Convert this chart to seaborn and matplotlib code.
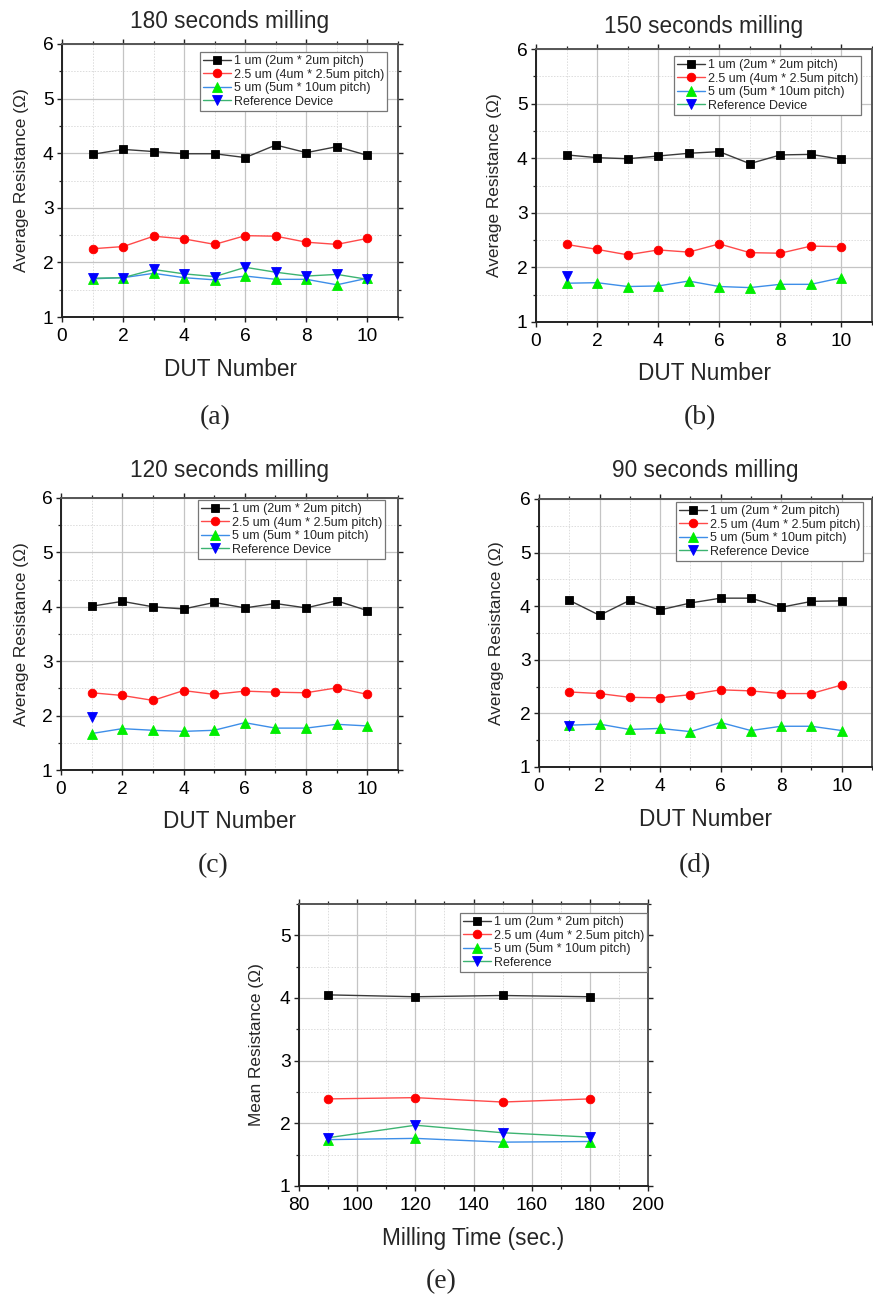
import numpy as np
import pandas as pd
import matplotlib
matplotlib.use("Agg")
import matplotlib.pyplot as plt
import seaborn as sns
from matplotlib.ticker import MultipleLocator

sns.set_style("ticks")
plt.rcParams["font.family"] = ["Liberation Sans", "DejaVu Sans"]

# ---- data -------------------------------------------------------------
dut = [1, 2, 3, 4, 5, 6, 7, 8, 9, 10]

a_1um = [3.98, 4.07, 4.03, 3.99, 3.99, 3.92, 4.15, 4.01, 4.12, 3.96]
a_25um = [2.25, 2.29, 2.48, 2.43, 2.33, 2.49, 2.48, 2.37, 2.33, 2.44]
a_5um = [1.70, 1.72, 1.80, 1.72, 1.68, 1.75, 1.69, 1.69, 1.59, 1.71]
a_ref = [1.71, 1.72, 1.87, 1.79, 1.74, 1.91, 1.82, 1.75, 1.78, 1.69]

b_1um = [4.06, 4.01, 3.99, 4.04, 4.09, 4.12, 3.90, 4.06, 4.07, 3.98]
b_25um = [2.42, 2.33, 2.23, 2.32, 2.28, 2.43, 2.27, 2.26, 2.39, 2.38]
b_5um = [1.71, 1.72, 1.65, 1.66, 1.75, 1.65, 1.63, 1.69, 1.69, 1.81]
b_ref = [1.84]

c_1um = [4.01, 4.10, 4.00, 3.96, 4.08, 3.98, 4.06, 3.98, 4.11, 3.93]
c_25um = [2.42, 2.37, 2.28, 2.46, 2.39, 2.45, 2.43, 2.42, 2.51, 2.39]
c_5um = [1.67, 1.76, 1.73, 1.71, 1.73, 1.87, 1.77, 1.77, 1.84, 1.81]
c_ref = [1.97]

d_1um = [4.11, 3.83, 4.11, 3.93, 4.06, 4.15, 4.15, 3.98, 4.09, 4.10]
d_25um = [2.40, 2.37, 2.30, 2.29, 2.35, 2.44, 2.42, 2.37, 2.37, 2.53]
d_5um = [1.78, 1.80, 1.70, 1.72, 1.66, 1.83, 1.68, 1.76, 1.76, 1.68]
d_ref = [1.76]

milling_time = [90, 120, 150, 180]
e_1um = [4.05, 4.02, 4.04, 4.02]
e_25um = [2.39, 2.41, 2.34, 2.39]
e_5um = [1.74, 1.76, 1.70, 1.71]
e_ref = [1.77, 1.97, 1.85, 1.78]

series_labels = ["1 um (2um * 2um pitch)", "2.5 um (4um * 2.5um pitch)",
                 "5 um (5um * 10um pitch)", "Reference Device"]
titles = ["180 seconds milling", "150 seconds milling",
          "120 seconds milling", "90 seconds milling"]

# line colour, marker colour, marker shape, marker size
styles = [
    ("#3a3a3a", "#000000", "s", 5.6),
    ("#ff4a4a", "#ff0000", "o", 6.2),
    ("#3d8ee8", "#00ee00", "^", 6.6),
    ("#3cb371", "#0000ff", "v", 6.6),
]

W, H = 873, 1301
fig = plt.figure(figsize=(W / 100, H / 100), dpi=100)


def make_axes(left, right, top, bottom):
    return fig.add_axes([left / W, 1 - bottom / H, (right - left) / W, (bottom - top) / H])


def style_axes(ax, xmaj, xmin, ymaj, ymin):
    ax.xaxis.set_major_locator(MultipleLocator(xmaj))
    ax.xaxis.set_minor_locator(MultipleLocator(xmin))
    ax.yaxis.set_major_locator(MultipleLocator(ymaj))
    ax.yaxis.set_minor_locator(MultipleLocator(ymin))
    ax.set_axisbelow(True)
    ax.grid(True, which="major", color="#c4c4c4", lw=0.9, ls="-")
    ax.grid(True, which="minor", color="#dcdcdc", lw=0.7, ls=(0, (1.5, 1.5)))
    ax.tick_params(which="both", direction="out", top=True, right=True,
                   colors="#222222", labelcolor="black")
    ax.tick_params(which="major", length=3.6, width=1.0, labelsize=13.8, pad=2.5)
    ax.tick_params(axis="x", which="major", pad=4.5)
    ax.tick_params(which="minor", length=2.2, width=0.9)
    for side in ["left", "bottom"]:
        ax.spines[side].set_color("#222222")
        ax.spines[side].set_linewidth(1.4)
    for side in ["top", "right"]:
        ax.spines[side].set_color("#555555")
        ax.spines[side].set_linewidth(1.4)
    ax.set_xlabel("")
    ax.set_ylabel("")


def draw_series(ax, xs_list, ys_list, labels):
    for (lc, mc, mk, ms), xs, ys, lab in zip(styles, xs_list, ys_list, labels):
        df = pd.DataFrame({"x": xs, "y": ys})
        sns.lineplot(data=df, x="x", y="y", ax=ax, color=lc, lw=1.0,
                     marker=mk, markersize=ms, markerfacecolor=mc,
                     markeredgecolor=mc, markeredgewidth=0.6,
                     label=lab, errorbar=None, legend=False)


def add_legend(ax, x0, y0, fontsize=9.0):
    handles, labels = ax.get_legend_handles_labels()
    leg = ax.legend(handles, labels, loc="upper left",
                    bbox_to_anchor=(x0 / W, 1 - y0 / H),
                    bbox_transform=fig.transFigure, fontsize=fontsize,
                    frameon=True, fancybox=False, framealpha=1,
                    edgecolor="#777777", borderpad=0.25, labelspacing=0.12,
                    handlelength=2.2, handletextpad=0.25, borderaxespad=0)
    leg.get_frame().set_linewidth(0.9)


# ---- panels (a)-(d): resistance per DUT --------------------------------
panels = [
    # box (left, right, top, bottom), data, reference x, legend origin,
    # title baseline, x-label baseline, panel tag position, y-label x, tag, title
    ((62, 398, 44, 317), (a_1um, a_25um, a_5um, a_ref), dut,
     (200, 52), 28, 376, (215, 418), 22, "(a)", titles[0]),
    ((536, 872, 49, 322), (b_1um, b_25um, b_5um, b_ref), dut[:1],
     (674, 56), 33, 380, (700, 418), 494, "(b)", titles[1]),
    ((61, 398, 498, 770), (c_1um, c_25um, c_5um, c_ref), dut[:1],
     (198, 500), 477, 828, (213, 866), 22, "(c)", titles[2]),
    ((539, 872, 499, 767), (d_1um, d_25um, d_5um, d_ref), dut[:1],
     (676, 502), 477, 826, (695, 866), 497, "(d)", titles[3]),
]

for box, ys, ref_x, leg_xy, t_y, xl_y, tag_xy, yl_x, tag, title in panels:
    left, right, top, bottom = box
    ax = make_axes(left, right, top, bottom)
    draw_series(ax, [dut, dut, dut, ref_x], list(ys), series_labels)
    ax.set_xlim(0, 11)
    ax.set_ylim(1, 6)
    style_axes(ax, 2, 1, 1, 0.5)
    add_legend(ax, *leg_xy)
    cx = (left + right) / 2
    fig.text(cx / W, 1 - t_y / H, title, ha="center", va="baseline", fontsize=16.3)
    fig.text(cx / W, 1 - xl_y / H, "DUT Number", ha="center", va="baseline", fontsize=16.3)
    fig.text(yl_x / W, 1 - ((top + bottom) / 2) / H, "Average Resistance (Ω)",
             rotation=90, ha="center", va="center", fontsize=12.4)
    fig.text(tag_xy[0] / W, 1 - tag_xy[1] / H, tag, ha="center", va="center",
             fontsize=20, family=["Liberation Serif", "DejaVu Serif"])

# ---- panel (e): mean resistance vs milling time ------------------------
left, right, top, bottom = 299, 648, 904, 1186
ax = make_axes(left, right, top, bottom)
draw_series(ax, [milling_time] * 4, [e_1um, e_25um, e_5um, e_ref],
            series_labels[:3] + ["Reference"])
ax.set_xlim(80, 200)
ax.set_ylim(1, 5.5)
style_axes(ax, 20, 10, 1, 0.5)
add_legend(ax, 460, 913)
cx = (left + right) / 2
fig.text(cx / W, 1 - 1245 / H, "Milling Time (sec.)", ha="center", va="baseline", fontsize=16.3)
fig.text(256 / W, 1 - ((top + bottom) / 2) / H, "Mean Resistance (Ω)",
         rotation=90, ha="center", va="center", fontsize=12.4)
fig.text(441 / W, 1 - 1282 / H, "(e)", ha="center", va="center",
         fontsize=20, family=["Liberation Serif", "DejaVu Serif"])

fig.savefig("out.png", dpi=100, facecolor="white")
